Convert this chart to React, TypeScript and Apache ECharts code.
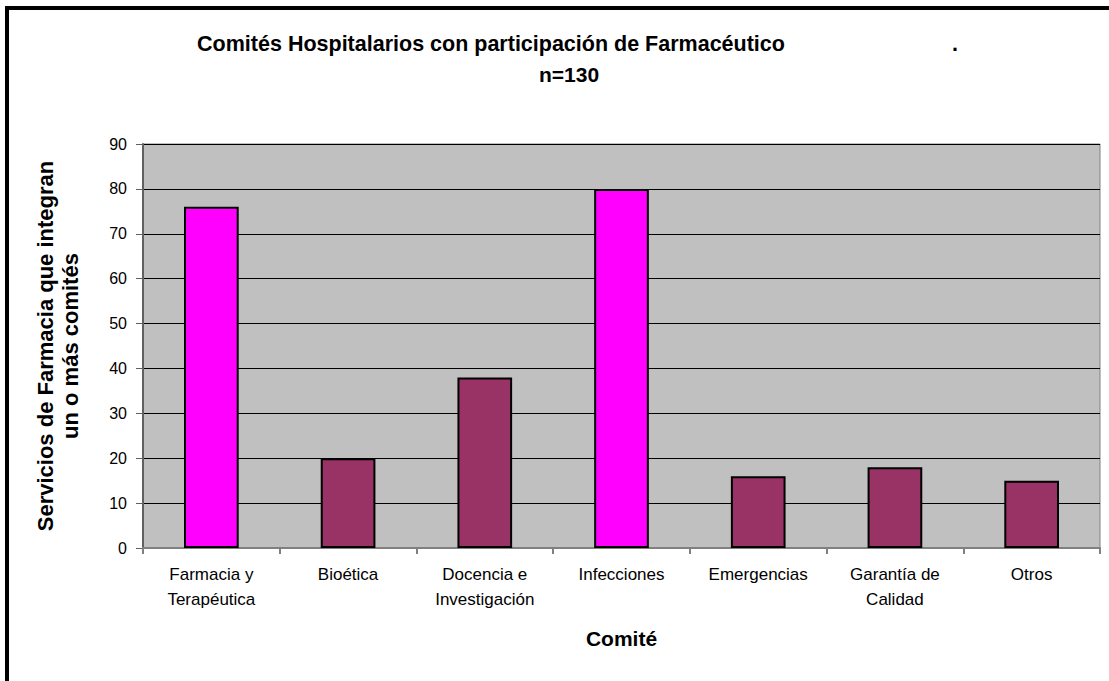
import React, { useEffect, useRef } from "react";
import * as echarts from "echarts";

const categories = [
  "Farmacia y\nTerapéutica",
  "Bioética",
  "Docencia e\nInvestigación",
  "Infecciones",
  "Emergencias",
  "Garantía de\nCalidad",
  "Otros",
];
const values = [76, 20, 38, 80, 16, 18, 15];
const highlighted = [true, false, false, true, false, false, false];
const yTicks = [0, 10, 20, 30, 40, 50, 60, 70, 80, 90];

const FONT = "'Liberation Sans', Arial, sans-serif";

export default function App() {
  const ref = useRef<HTMLDivElement>(null);
  useEffect(() => {
    if (!ref.current) return;
    const chart = echarts.init(ref.current, undefined, { renderer: "svg" });
    chart.setOption({
      animation: false,
      backgroundColor: "#ffffff",
      textStyle: { fontFamily: FONT },
      title: [
        {
          text: "Comités Hospitalarios con participación de Farmacéutico",
          left: 486,
          textAlign: "center",
          top: 28,
          textStyle: { fontFamily: FONT, fontSize: 21.5, fontWeight: "bold", color: "#000" },
        },
        {
          text: ".",
          left: 947,
          top: 28,
          textStyle: { fontFamily: FONT, fontSize: 21.5, fontWeight: "bold", color: "#000" },
        },
        {
          text: "n=130",
          left: 564,
          textAlign: "center",
          top: 59,
          textStyle: { fontFamily: FONT, fontSize: 21, fontWeight: "bold", color: "#000" },
        },
      ],
      grid: {
        left: 143,
        right: 9,
        top: 144,
        bottom: 133,
        show: true,
        backgroundColor: "#C0C0C0",
        borderColor: "#808080",
        borderWidth: 1,
        containLabel: false,
      },
      xAxis: {
        type: "category",
        data: categories,
        name: "Comité",
        nameLocation: "middle",
        nameGap: 80,
        nameTextStyle: { fontFamily: FONT, fontSize: 21, fontWeight: "bold", color: "#000" },
        axisLine: { lineStyle: { color: "#808080", width: 2 } },
        axisTick: { show: true, alignWithLabel: false, length: 6, lineStyle: { color: "#808080", width: 2 } },
        axisLabel: {
          interval: 0,
          margin: 14,
          color: "#000",
          fontFamily: FONT,
          fontSize: 17,
          lineHeight: 25,
        },
        splitLine: { show: false },
      },
      yAxis: {
        type: "value",
        min: 0,
        max: 90,
        interval: 10,
        name: "Servicios de Farmacia que integran\nun o más comités",
        nameLocation: "middle",
        nameGap: 60,
        nameRotate: 90,
        nameTextStyle: { fontFamily: FONT, fontSize: 22, fontWeight: "bold", color: "#000", lineHeight: 25 },
        axisLine: { show: true, lineStyle: { color: "#606060", width: 2 } },
        axisTick: { show: true, length: 7, lineStyle: { color: "#606060", width: 1 } },
        axisLabel: {
          margin: 16,
          color: "#000",
          fontFamily: FONT,
          fontSize: 16,
          formatter: (v: number) => (yTicks.includes(v) ? String(v) : ""),
        },
        splitLine: { show: true, lineStyle: { color: "#000", width: 1 } },
      },
      series: [
        {
          type: "bar",
          data: values.map((v, i) => ({
            value: v,
            itemStyle: {
              color: highlighted[i] ? "#FF00FF" : "#993366",
              borderColor: "#000",
              borderWidth: 2,
            },
          })),
          barWidth: "40%",
        },
      ],
      graphic: [
        {
          type: "rect",
          shape: { x: 7, y: 8, width: 1300, height: 900 },
          style: { fill: "none", stroke: "#000", lineWidth: 4 },
          silent: true,
          z: 100,
        },
      ],
    });
    return () => chart.dispose();
  }, []);
  return (
    <div
      ref={ref}
      style={{ position: "absolute", left: 0, top: 0, width: 1109, height: 681 }}
    />
  );
}
